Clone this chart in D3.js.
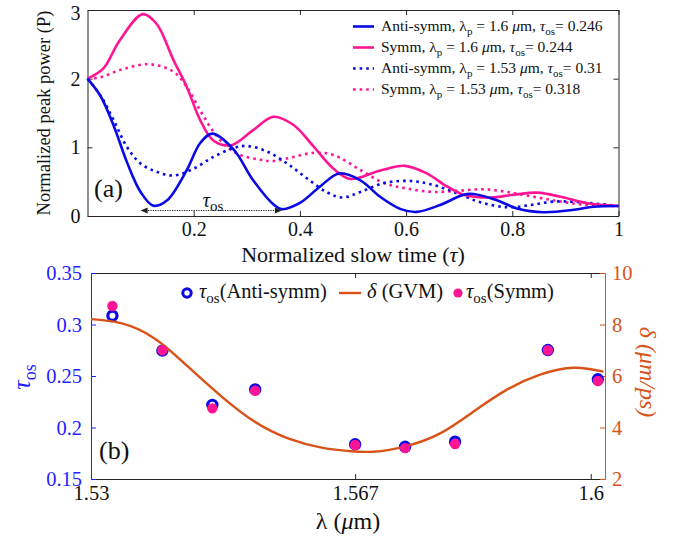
<!DOCTYPE html>
<html><head><meta charset="utf-8">
<script src="https://cdn.jsdelivr.net/npm/d3@7"></script>
<style>
body{margin:0;background:#fff}
svg{display:block}
text{font-family:"Liberation Serif","DejaVu Serif","Nimbus Roman","FreeSerif","Noto Serif","Times New Roman",serif}
</style>
</head><body>
<svg id="c" width="697" height="538"></svg>
<script>
// ---------- Panel (a) data ----------
const antiT16 = [0,0.025,0.05,0.075,0.1,0.124,0.15,0.187,0.212,0.235,0.275,0.312,0.35,0.366,0.40,0.438,0.474,0.514,0.551,0.59,0.62,0.664,0.708,0.727,0.771,0.809,0.859,0.916,0.953,1];
const antiP16 = [2.0,1.74,1.30,0.77,0.35,0.15,0.23,0.67,1.06,1.20,0.97,0.52,0.17,0.10,0.19,0.43,0.62,0.52,0.28,0.10,0.06,0.16,0.31,0.32,0.23,0.11,0.055,0.09,0.135,0.146];
const symmT16 = [0,0.03,0.06,0.104,0.13,0.162,0.187,0.212,0.237,0.27,0.312,0.35,0.388,0.426,0.463,0.495,0.55,0.598,0.639,0.677,0.708,0.759,0.803,0.847,0.891,0.941,1];
const symmP16 = [2.0,2.15,2.55,2.94,2.80,2.27,1.88,1.40,1.10,1.03,1.25,1.445,1.325,1.01,0.69,0.54,0.66,0.73,0.62,0.43,0.31,0.27,0.31,0.34,0.28,0.185,0.146];
const antiT153 = [0,0.024,0.049,0.074,0.099,0.13,0.162,0.2,0.237,0.275,0.30,0.338,0.375,0.413,0.45,0.48,0.514,0.558,0.608,0.652,0.696,0.74,0.79,0.834,0.878,0.928,1];
const antiP153 = [2.0,1.76,1.40,1.01,0.77,0.645,0.59,0.69,0.86,0.99,1.02,0.94,0.77,0.55,0.35,0.27,0.35,0.48,0.51,0.45,0.33,0.20,0.127,0.16,0.21,0.20,0.146];
const symmT153 = [0,0.024,0.067,0.118,0.162,0.187,0.212,0.237,0.262,0.287,0.325,0.35,0.388,0.426,0.463,0.514,0.558,0.602,0.652,0.702,0.746,0.79,0.84,0.891,0.941,1];
const symmP153 = [2.0,2.02,2.14,2.21,2.10,1.88,1.54,1.23,1.01,0.89,0.82,0.80,0.86,0.92,0.89,0.67,0.48,0.40,0.35,0.37,0.39,0.35,0.28,0.21,0.16,0.146];
const topXTicks = [0.2,0.4,0.6,0.8,1];
const topYTicks = [0,1,2,3];
const arrowT = [0.1,0.366];
const arrowP = 0.08;

// ---------- Panel (b) data ----------
const lambdaPts = [1.533,1.540,1.547,1.553,1.567,1.574,1.581,1.594,1.601];
const tauAnti   = [0.3085,0.2746,0.222,0.237,0.1837,0.1813,0.1862,0.2752,0.2468];
const tauSymm   = [0.318,0.275,0.2186,0.2357,0.183,0.180,0.184,0.275,0.2451];
const gvmLambda = [1.530,1.5342,1.5389,1.5436,1.5483,1.5529,1.5576,1.5623,1.5660,1.5696,1.5742,1.5789,1.5836,1.5882,1.5929,1.5976,1.6018];
const gvmDelta  = [8.21,8.05,7.46,6.36,5.20,4.23,3.58,3.22,3.09,3.06,3.28,3.77,4.62,5.46,6.05,6.32,6.17];
const botXTicks = [1.53,1.567,1.6];
const botYLTicks = [0.15,0.2,0.25,0.3,0.35];
const botYRTicks = [2,4,6,8,10];

const BLUE = "#0a0ae6", PINK = "#ff1493", ORANGE = "#d95319", AX = "#262626";
const FONT = '"Liberation Serif","DejaVu Serif","Nimbus Roman","FreeSerif","Noto Serif","Times New Roman",serif';
const svg = d3.select("#c");

// ================= Panel (a) =================
const xa = d3.scaleLinear().domain([0,1]).range([87.5,618.5]);
const ya = d3.scaleLinear().domain([0,3]).range([216,10]);
const ga = svg.append("g");

function styleAxis(g, color, fs){
  g.attr("font-family", FONT);
  g.select(".domain").attr("stroke", color);
  g.selectAll(".tick line").attr("stroke", color);
  g.selectAll(".tick text").attr("fill", color).style("font-size", fs+"px")
   .style("font-family", FONT);
}
let g;
g = ga.append("g").attr("transform","translate(0,216)")
  .call(d3.axisBottom(xa).tickValues(topXTicks).tickFormat(d3.format("")).tickSizeInner(-5).tickSizeOuter(0).tickPadding(6));
styleAxis(g, AX, 20); g.selectAll(".tick text").attr("fill","#111");
g = ga.append("g").attr("transform","translate(0,10)")
  .call(d3.axisTop(xa).tickValues(topXTicks).tickFormat("").tickSizeInner(-5).tickSizeOuter(0));
styleAxis(g, AX, 20);
g = ga.append("g").attr("transform","translate(87.5,0)")
  .call(d3.axisLeft(ya).tickValues(topYTicks).tickFormat(d3.format("d")).tickSizeInner(-5).tickSizeOuter(0).tickPadding(7));
styleAxis(g, AX, 20); g.selectAll(".tick text").attr("fill","#111");
g.selectAll(".tick text").filter(d=>d===3).attr("dy","0.45em");
g = ga.append("g").attr("transform","translate(618.5,0)")
  .call(d3.axisRight(ya).tickValues(topYTicks).tickFormat("").tickSizeInner(-5).tickSizeOuter(0));
styleAxis(g, AX, 20);

const lineA = d3.line().x(d=>xa(d[0])).y(d=>ya(d[1])).curve(d3.curveCatmullRom.alpha(0.5));
const zip = (a,b)=>a.map((v,i)=>[v,b[i]]);
const seriesA = [
  {t:symmT153, p:symmP153, c:PINK, dash:"2.6,4"},
  {t:antiT153, p:antiP153, c:BLUE, dash:"2.6,4"},
  {t:symmT16,  p:symmP16,  c:PINK, dash:null},
  {t:antiT16,  p:antiP16,  c:BLUE, dash:null}
];
seriesA.forEach(s=>{
  ga.append("path").attr("d", lineA(zip(s.t,s.p))).attr("fill","none")
    .attr("stroke", s.c).attr("stroke-width", 2.6)
    .attr("stroke-dasharray", s.dash);
});

// tau_os double arrow
const ax0 = xa(arrowT[0]), ax1 = xa(arrowT[1]), ay = ya(arrowP);
ga.append("line").attr("x1",ax0+5).attr("x2",ax1-5).attr("y1",ay).attr("y2",ay)
  .attr("stroke","#222").attr("stroke-width",1.2).attr("stroke-dasharray","1.2,1.2");
ga.append("path").attr("d",`M${ax0},${ay}L${ax0+7},${ay-3}L${ax0+7},${ay+3}Z`).attr("fill","#222");
ga.append("path").attr("d",`M${ax1},${ay}L${ax1-7},${ay-3}L${ax1-7},${ay+3}Z`).attr("fill","#222");
const tl = ga.append("text").attr("x", xa(0.217)).attr("y", ay-4).attr("fill","#111").style("font-size","20px");
tl.append("tspan").text("τ").style("font-style","italic");
tl.append("tspan").text("os").attr("dy",4).style("font-size","15px");

// (a)
ga.append("text").attr("x",94).attr("y",197).text("(a)").style("font-size","26px").attr("fill","#111");

// axis labels
ga.append("text").attr("transform","translate(50,113) rotate(-90)").attr("text-anchor","middle")
  .style("font-size","18.5px").attr("fill","#111").text("Normalized peak power (P)");
const xl = ga.append("text").attr("x",353).attr("y",262).attr("text-anchor","middle").style("font-size","22px").attr("fill","#111");
xl.append("tspan").text("Normalized slow time (");
xl.append("tspan").text("τ").style("font-style","italic");
xl.append("tspan").text(")");

// legend (a)
const legRows = [
  {c:BLUE, dash:null, parts:[["Anti-symm, λ"],["p","sub"],[" = 1.6 "],["μ","it"],["m, "],["τ","it"],["os","sub"],["= 0.246"]]},
  {c:PINK, dash:null, parts:[["Symm, λ"],["p","sub"],[" = 1.6 "],["μ","it"],["m, "],["τ","it"],["os","sub"],["= 0.244"]]},
  {c:BLUE, dash:"2.6,4", parts:[["Anti-symm, λ"],["p","sub"],[" = 1.53 "],["μ","it"],["m, "],["τ","it"],["os","sub"],["= 0.31"]]},
  {c:PINK, dash:"2.6,4", parts:[["Symm, λ"],["p","sub"],[" = 1.53 "],["μ","it"],["m, "],["τ","it"],["os","sub"],["= 0.318"]]}
];
function richText(sel, parts, fs, subfs, subdy){
  let sub = false;
  parts.forEach(p=>{
    const ts = sel.append("tspan").text(p[0]);
    if(p[1]==="sub"){ ts.attr("dy", subdy).style("font-size", subfs+"px"); sub = true; }
    else {
      if(sub){ ts.attr("dy", -subdy); sub = false; }
      if(p[1]==="it") ts.style("font-style","italic");
    }
  });
}
legRows.forEach((r,i)=>{
  const y = 26.5 + i*21;
  ga.append("line").attr("x1",353).attr("x2",374).attr("y1",y).attr("y2",y)
    .attr("stroke",r.c).attr("stroke-width",2.6).attr("stroke-dasharray",r.dash);
  const t = ga.append("text").attr("x",381).attr("y",y+4.5).style("font-size","15.5px").attr("fill","#111");
  richText(t, r.parts, 15.5, 11, 4);
});

// ================= Panel (b) =================
const xb = d3.scaleLinear().domain([1.53,1.602]).range([91,605]);
const ybl = d3.scaleLinear().domain([0.15,0.35]).range([479,273]);
const ybr = d3.scaleLinear().domain([2,10]).range([479,273]);
const gb = svg.append("g");

g = gb.append("g").attr("transform","translate(0,479)")
  .call(d3.axisBottom(xb).tickValues(botXTicks).tickFormat(d=>String(d)).tickSizeInner(-5).tickSizeOuter(0).tickPadding(6));
styleAxis(g, AX, 20.5); g.selectAll(".tick text").attr("fill","#111");
g = gb.append("g").attr("transform","translate(0,273)")
  .call(d3.axisTop(xb).tickValues(botXTicks).tickFormat("").tickSizeInner(-5).tickSizeOuter(0));
styleAxis(g, AX, 20.5);
g = gb.append("g").attr("transform","translate(91,0)")
  .call(d3.axisLeft(ybl).tickValues(botYLTicks).tickFormat(d=>String(+d.toFixed(2))).tickSizeInner(-5).tickSizeOuter(0).tickPadding(9));
styleAxis(g, "#1f1fff", 20.5);
g = gb.append("g").attr("transform","translate(605,0)")
  .call(d3.axisRight(ybr).tickValues(botYRTicks).tickFormat(d3.format("d")).tickSizeInner(-5).tickSizeOuter(0).tickPadding(7));
styleAxis(g, ORANGE, 20.5);

// markers anti (rings)
gb.append("g").selectAll("circle").data(zip(lambdaPts,tauAnti)).join("circle")
  .attr("cx",d=>xb(d[0])).attr("cy",d=>ybl(d[1])).attr("r",4.6)
  .attr("fill","#fff").attr("stroke",BLUE).attr("stroke-width",3.2);
// GVM curve
const lineB = d3.line().x(d=>xb(d[0])).y(d=>ybr(d[1])).curve(d3.curveNatural);
gb.append("path").attr("d", lineB(zip(gvmLambda,gvmDelta))).attr("fill","none")
  .attr("stroke",ORANGE).attr("stroke-width",2.4);
// markers symm (filled)
gb.append("g").selectAll("circle").data(zip(lambdaPts,tauSymm)).join("circle")
  .attr("cx",d=>xb(d[0])).attr("cy",d=>ybl(d[1])).attr("r",5.2)
  .attr("fill",PINK);

// (b)
gb.append("text").attr("x",99).attr("y",459).text("(b)").style("font-size","26px").attr("fill","#111");

// axis labels b
const yl = gb.append("text").attr("transform","translate(30,377) rotate(-90)").attr("text-anchor","middle")
  .attr("fill","#1f1fff").style("font-size","26px");
yl.append("tspan").text("τ").style("font-style","italic");
yl.append("tspan").text("os").attr("dy",6).style("font-size","18px");
gb.append("text").attr("transform","translate(640,372) rotate(90)").attr("text-anchor","middle")
  .attr("fill",ORANGE).style("font-size","24px").style("font-style","italic").text("δ (μm/ps)");
const xlb = gb.append("text").attr("x",348).attr("y",529).attr("text-anchor","middle").attr("fill","#111").style("font-size","24px");
xlb.append("tspan").text("λ (");
xlb.append("tspan").text("μ").style("font-style","italic");
xlb.append("tspan").text("m)");

// legend b
const ly = 293;
gb.append("circle").attr("cx",187).attr("cy",ly).attr("r",4.2).attr("fill","#fff").attr("stroke",BLUE).attr("stroke-width",3);
const l1 = gb.append("text").attr("x",199).attr("y",ly+5).style("font-size","20.5px").attr("fill","#111");
richText(l1, [["τ","it"],["os","sub"],["(Anti-symm)"]], 20.5, 15, 5);
gb.append("line").attr("x1",339).attr("x2",361).attr("y1",ly).attr("y2",ly).attr("stroke",ORANGE).attr("stroke-width",2.4);
const l2 = gb.append("text").attr("x",367).attr("y",ly+5).style("font-size","20.5px").attr("fill","#111");
richText(l2, [["δ","it"],[" (GVM)"]], 20.5, 15, 5);
gb.append("circle").attr("cx",458).attr("cy",ly).attr("r",4.6).attr("fill",PINK);
const l3 = gb.append("text").attr("x",466).attr("y",ly+5).style("font-size","20.5px").attr("fill","#111");
richText(l3, [["τ","it"],["os","sub"],["(Symm)"]], 20.5, 15, 5);
</script>
</body></html>
